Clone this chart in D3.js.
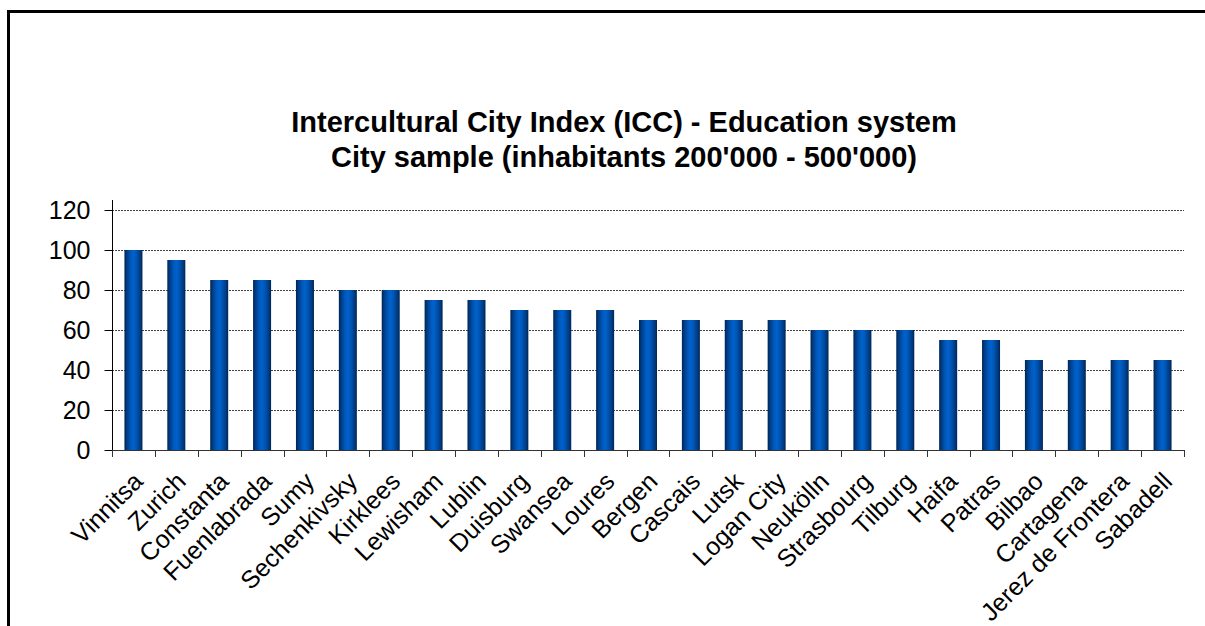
<!DOCTYPE html>
<html>
<head>
<meta charset="utf-8">
<script src="https://cdn.jsdelivr.net/npm/d3@7"></script>
<style>
  html, body { margin: 0; padding: 0; background: #fff; }
  svg { display: block; font-family: "Liberation Sans", Arial, sans-serif; }
</style>
</head>
<body>
<svg id="chart" width="1205" height="626"></svg>
<script>
// Education system scores per city (ICC sample, 200'000 - 500'000 inhabitants)
const cities = [
  "Vinnitsa", "Zurich", "Constanta", "Fuenlabrada", "Sumy", "Sechenkivsky",
  "Kirklees", "Lewisham", "Lublin", "Duisburg", "Swansea", "Loures", "Bergen",
  "Cascais", "Lutsk", "Logan City", "Neukölln", "Strasbourg", "Tilburg",
  "Haifa", "Patras", "Bilbao", "Cartagena", "Jerez de Frontera", "Sabadell"
];
const scores = [
  100, 95, 85, 85, 85, 80, 80, 75, 75, 70, 70, 70, 65,
  65, 65, 65, 60, 60, 60, 55, 55, 45, 45, 45, 45
];
const yTicks = [0, 20, 40, 60, 80, 100, 120];
const titleLines = [
  "Intercultural City Index (ICC) - Education system",
  "City sample (inhabitants 200'000 - 500'000)"
];

const svg = d3.select("#chart");
const plot = { left: 112, right: 1184, top: 200, bottom: 450 };

// Outer frame (left and top edges)
svg.append("path")
  .attr("d", "M8.5,640 L8.5,11.5 L1210,11.5")
  .attr("fill", "none")
  .attr("stroke", "#000")
  .attr("stroke-width", 3);

// Bar gradient: dark edges, bright blue centre
const defs = svg.append("defs");
const grad = defs.append("linearGradient")
  .attr("id", "barFill")
  .attr("x1", "0%").attr("x2", "100%").attr("y1", "0%").attr("y2", "0%");
[
  [0, "#00244f"], [0.12, "#003a80"], [0.35, "#0058bb"], [0.5, "#0062cc"],
  [0.65, "#0056b6"], [0.88, "#003a80"], [1, "#002552"]
].forEach(([o, c]) => grad.append("stop").attr("offset", o).attr("stop-color", c));

const x = d3.scaleBand()
  .domain(cities)
  .range([plot.left, plot.right]);

const y = d3.scaleLinear()
  .domain([0, 120])
  .range([plot.bottom, plot.bottom - 240]);

// Gridlines
svg.append("g")
  .selectAll("line")
  .data(yTicks.filter(d => d > 0))
  .join("line")
  .attr("x1", plot.left).attr("x2", plot.right)
  .attr("y1", d => Math.round(y(d)) + 0.5).attr("y2", d => Math.round(y(d)) + 0.5)
  .attr("stroke", "#444")
  .attr("stroke-width", 1)
  .attr("stroke-dasharray", "2,1");

// Bars
const barW = 18;
svg.append("g")
  .selectAll("rect")
  .data(cities)
  .join("rect")
  .attr("x", (d) => x(d) + x.bandwidth() / 2 - barW / 2)
  .attr("width", barW)
  .attr("y", (d, i) => y(scores[i]))
  .attr("height", (d, i) => y(0) - y(scores[i]))
  .attr("fill", "url(#barFill)");

// Y axis
const yAxis = d3.axisLeft(y)
  .tickValues(yTicks)
  .tickSize(8)
  .tickPadding(14)
  .tickFormat(d3.format("d"));
const gy = svg.append("g")
  .attr("transform", `translate(${plot.left + 0.5},0)`)
  .call(yAxis);
gy.select(".domain").remove();
gy.append("line")
  .attr("x1", 0).attr("x2", 0)
  .attr("y1", plot.top).attr("y2", plot.bottom)
  .attr("stroke", "#000");
gy.selectAll(".tick line").attr("stroke", "#000");
gy.selectAll(".tick text")
  .attr("fill", "#000")
  .style("font-size", "25px")
  .style("font-family", "'Liberation Sans', Arial, sans-serif");

// X axis: ticks at category boundaries
const gx = svg.append("g");
gx.append("line")
  .attr("x1", plot.left).attr("x2", plot.right)
  .attr("y1", plot.bottom + 0.5).attr("y2", plot.bottom + 0.5)
  .attr("stroke", "#333");
const bounds = cities.map(c => x(c)).concat([plot.right]);
gx.selectAll("line.tk")
  .data(bounds)
  .join("line")
  .attr("class", "tk")
  .attr("x1", d => Math.round(d) + 0.5).attr("x2", d => Math.round(d) + 0.5)
  .attr("y1", plot.bottom).attr("y2", plot.bottom + 7)
  .attr("stroke", "#333");

// Rotated category labels
gx.selectAll("text")
  .data(cities)
  .join("text")
  .attr("transform", d => {
    const cx = x(d) + x.bandwidth() / 2;
    return `translate(${cx + 11},${plot.bottom + 33}) rotate(-45)`;
  })
  .attr("text-anchor", "end")
  .style("font-size", "25px")
  .attr("fill", "#000")
  .text(d => d);

// Title
svg.append("text")
  .attr("x", 624)
  .attr("text-anchor", "middle")
  .style("font-size", "29px")
  .style("font-weight", "bold")
  .attr("fill", "#000")
  .selectAll("tspan")
  .data(titleLines)
  .join("tspan")
  .attr("x", 624)
  .attr("y", (d, i) => 132 + i * 35)
  .text(d => d);
</script>
</body>
</html>
